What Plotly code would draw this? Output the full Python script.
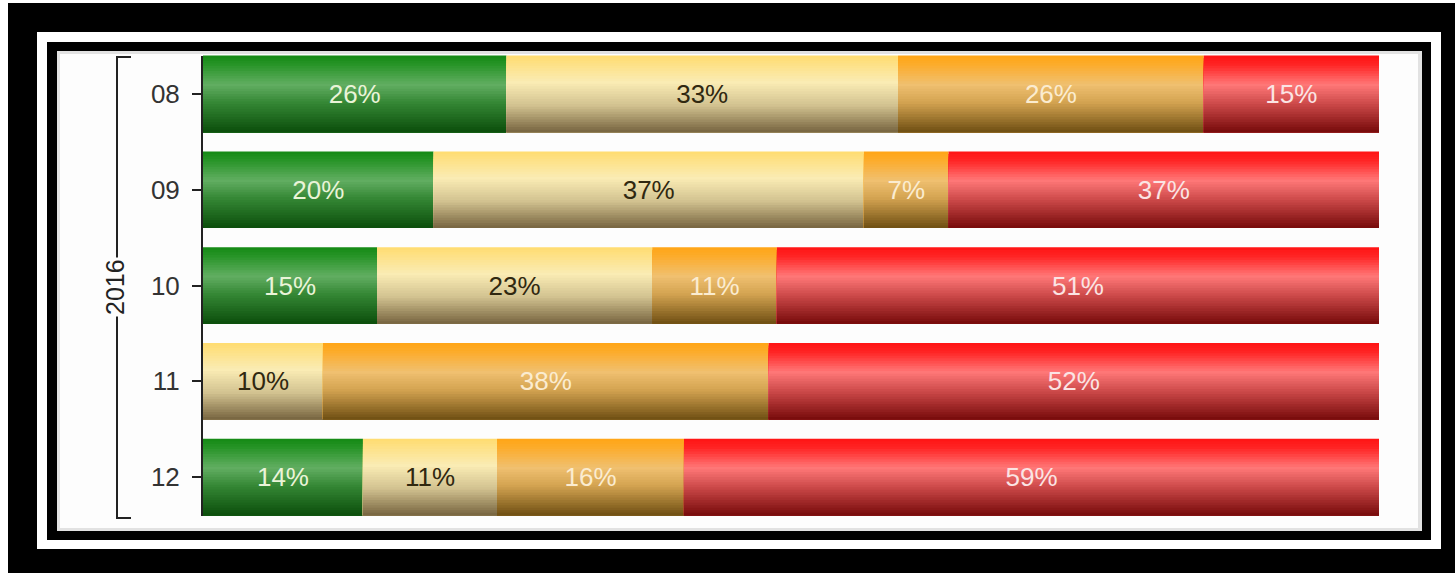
import plotly.graph_objects as go
import numpy as np

# ---- data ----
months = ["08", "09", "10", "11", "12"]
year_label = "2016"
green = [25.8, 19.6, 14.8, 0.0, 13.6]
tan = [33.3, 36.6, 23.4, 10.2, 11.4]
orange = [26.0, 7.2, 10.6, 37.9, 15.9]
red = [14.9, 36.6, 51.2, 51.9, 59.1]

series = [
    ("green", green,
     [(0.0, "#148a14"), (0.12, "#289428"), (0.38, "#62ae62"), (0.62, "#348634"), (1.0, "#0b4e0b")],
     "#eaf4d8"),
    ("tan", tan,
     [(0.0, "#ffdc70"), (0.35, "#faecb4"), (0.65, "#d2c290"), (1.0, "#76643f")],
     "#302810"),
    ("orange", orange,
     [(0.0, "#ffa516"), (0.12, "#fcac2c"), (0.38, "#f0c070"), (0.62, "#d2a250"), (1.0, "#6e4e12")],
     "#fbecd0"),
    ("red", red,
     [(0.0, "#ff1414"), (0.12, "#ff2424"), (0.38, "#ff7878"), (0.65, "#c84646"), (1.0, "#760a0a")],
     "#fbe4e4"),
]

W, H = 1455, 573
L, R, T, B = 203, 76, 46, 48
PW, PH = W - L - R, H - T - B
FONT = "Arial, Liberation Sans, sans-serif"


def px(x):
    return (x - L) / PW


def py(y):
    return (H - B - y) / PH


def hex2rgb(h):
    h = h.lstrip("#")
    return np.array([int(h[i:i + 2], 16) for i in (0, 2, 4)], dtype=float)


def grad(stops, f):
    for (f0, c0), (f1, c1) in zip(stops[:-1], stops[1:]):
        if f0 <= f <= f1:
            t = (f - f0) / (f1 - f0) if f1 > f0 else 0
            c = hex2rgb(c0) * (1 - t) + hex2rgb(c1) * t
            return "rgb(%d,%d,%d)" % tuple(c.round())
    return stops[-1][1]


ypos = list(range(len(months)))
bar_w = 0.8
N = 30

fig = go.Figure()
cum = np.zeros(len(months))
text_traces = []
for name, vals, stops, tcol in series:
    vals = np.array(vals)
    for i in range(N):
        f = (i + 0.5) / N
        # each slice runs from its start to the bar bottom, later slices paint over
        fig.add_trace(go.Bar(
            x=vals, y=ypos, base=cum, orientation="h",
            width=bar_w * (N - i) / N, offset=-bar_w / 2 + i * bar_w / N,
            marker=dict(color=grad(stops, f), line=dict(width=0)),
            hoverinfo="skip", showlegend=False,
        ))
    text_traces.append(go.Bar(
        x=vals, y=ypos, base=cum.copy(), orientation="h",
        width=bar_w, offset=-bar_w / 2,
        marker=dict(color="rgba(0,0,0,0)", line=dict(width=0)),
        text=["%d%%" % round(v) if v > 0 else "" for v in vals],
        textposition="inside", insidetextanchor="middle", textangle=0,
        constraintext="none",
        textfont=dict(size=26, color=tcol, family=FONT),
        hoverinfo="skip", showlegend=False,
    ))
    cum = cum + vals
for t in text_traces:
    fig.add_trace(t)

shapes = [
    dict(type="rect", xref="paper", yref="paper", x0=px(8), x1=px(1460), y0=py(3), y1=py(580),
         fillcolor="black", line=dict(width=0), layer="below"),
    dict(type="rect", xref="paper", yref="paper", x0=px(37), x1=px(1441), y0=py(32), y1=py(549),
         fillcolor="white", line=dict(width=0), layer="below"),
    dict(type="rect", xref="paper", yref="paper", x0=px(47), x1=px(1431), y0=py(42), y1=py(540),
         fillcolor="black", line=dict(width=0), layer="below"),
    dict(type="rect", xref="paper", yref="paper", x0=px(57), x1=px(1422), y0=py(51), y1=py(531),
         fillcolor="#e2e2e2", line=dict(width=0), layer="below"),
    dict(type="rect", xref="paper", yref="paper", x0=px(60), x1=px(1418), y0=py(54), y1=py(528),
         fillcolor="#fdfdfd", line=dict(width=0), layer="below"),
    # y axis line (only along the bars)
    dict(type="line", xref="paper", yref="paper", x0=px(202), x1=px(202), y0=py(56), y1=py(516),
         line=dict(color="#222", width=2)),
    # bracket
    dict(type="line", xref="paper", yref="paper", x0=px(117), x1=px(117), y0=py(57), y1=py(518),
         line=dict(color="#222", width=2)),
    dict(type="line", xref="paper", yref="paper", x0=px(116), x1=px(131), y0=py(57), y1=py(57),
         line=dict(color="#222", width=2)),
    dict(type="line", xref="paper", yref="paper", x0=px(116), x1=px(131), y0=py(518), y1=py(518),
         line=dict(color="#222", width=2)),
]

fig.update_layout(
    width=W, height=H,
    margin=dict(l=L, r=R, t=T, b=B, pad=0),
    barmode="overlay",
    paper_bgcolor="white",
    plot_bgcolor="rgba(0,0,0,0)",
    shapes=shapes,
    annotations=[dict(
        text=year_label, xref="paper", yref="paper", x=px(115), y=py(287),
        showarrow=False, textangle=-90, bgcolor="#fdfdfd",
        font=dict(size=25, color="#222", family=FONT),
        xanchor="center", yanchor="middle",
    )],
    xaxis=dict(range=[0, 100], visible=False, fixedrange=True),
    yaxis=dict(
        range=[4.5, -0.5], tickvals=ypos, ticktext=months,
        showline=False,
        ticks="outside", ticklen=10, tickwidth=2, tickcolor="#222",
        ticklabelstandoff=7,
        tickfont=dict(size=26, color="#333", family=FONT),
        showgrid=False, zeroline=False,
    ),
    uniformtext=dict(mode=False),
)

fig.write_html("out.html")
